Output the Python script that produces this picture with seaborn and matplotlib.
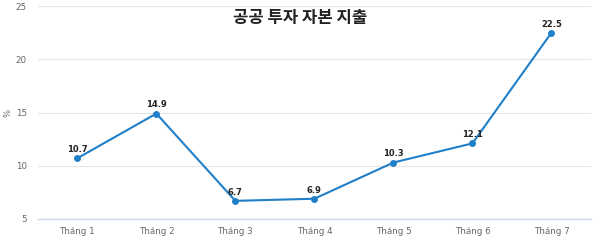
import matplotlib
matplotlib.use("Agg")
import matplotlib.pyplot as plt
import seaborn as sns
import pandas as pd

months = ["Tháng 1", "Tháng 2", "Tháng 3", "Tháng 4", "Tháng 5", "Tháng 6", "Tháng 7"]
values = [10.7, 14.9, 6.7, 6.9, 10.3, 12.1, 22.5]
y_ticks = [5, 10, 15, 20, 25]
title = "공공 투자 자본 지출"
y_label = "%"

sns.set_theme(style="white")
plt.rcParams['font.family'] = ['Noto Sans CJK KR', 'DejaVu Sans']

df = pd.DataFrame({"month": months, "value": values})

fig = plt.figure(figsize=(6.0, 2.43), dpi=100)
ax = fig.add_axes([0.063, 0.099, 0.922, 0.876])

color = "#1f7fc8"
sns.lineplot(data=df, x="month", y="value", ax=ax, color=color, linewidth=1.5,
             marker="o", markersize=5, markeredgewidth=0, sort=False)

for i, v in enumerate(values):
    ax.annotate(f"{v}", (i, v), xytext=(0, 3), textcoords="offset points",
                ha="center", va="bottom", fontsize=6, fontweight="bold",
                color="#222222", family=['DejaVu Sans'])

ax.set_xlim(-0.5, len(months) - 0.5)
ax.set_ylim(5, 25)
ax.set_yticks(y_ticks)
ax.set_yticklabels([str(t) for t in y_ticks])
ax.set_xticks(range(len(months)))
ax.set_xticklabels(months)
ax.tick_params(axis="both", length=0, labelsize=6.3, colors="#666666", pad=8)
ax.tick_params(axis="x", pad=6)
for lab in ax.get_xticklabels() + ax.get_yticklabels():
    lab.set_family(['DejaVu Sans'])

ax.grid(axis="y", color="#e6e6e6", linewidth=0.8)
ax.grid(axis="x", visible=False)
for s in ["top", "right", "left"]:
    ax.spines[s].set_visible(False)
ax.spines["bottom"].set_color("#ccd6eb")
ax.spines["bottom"].set_linewidth(1.0)

ax.set_xlabel("")
ax.set_ylabel("")
fig.text(8 / 600, 1 - 113 / 243, y_label, rotation=90, ha="center", va="center",
         fontsize=6, color="#666666", family=['DejaVu Sans'])

fig.text(0.5, 0.925, title, ha="center", va="center", fontsize=12, fontweight="bold",
         color="#222222")

fig.savefig("out.png", dpi=100)
